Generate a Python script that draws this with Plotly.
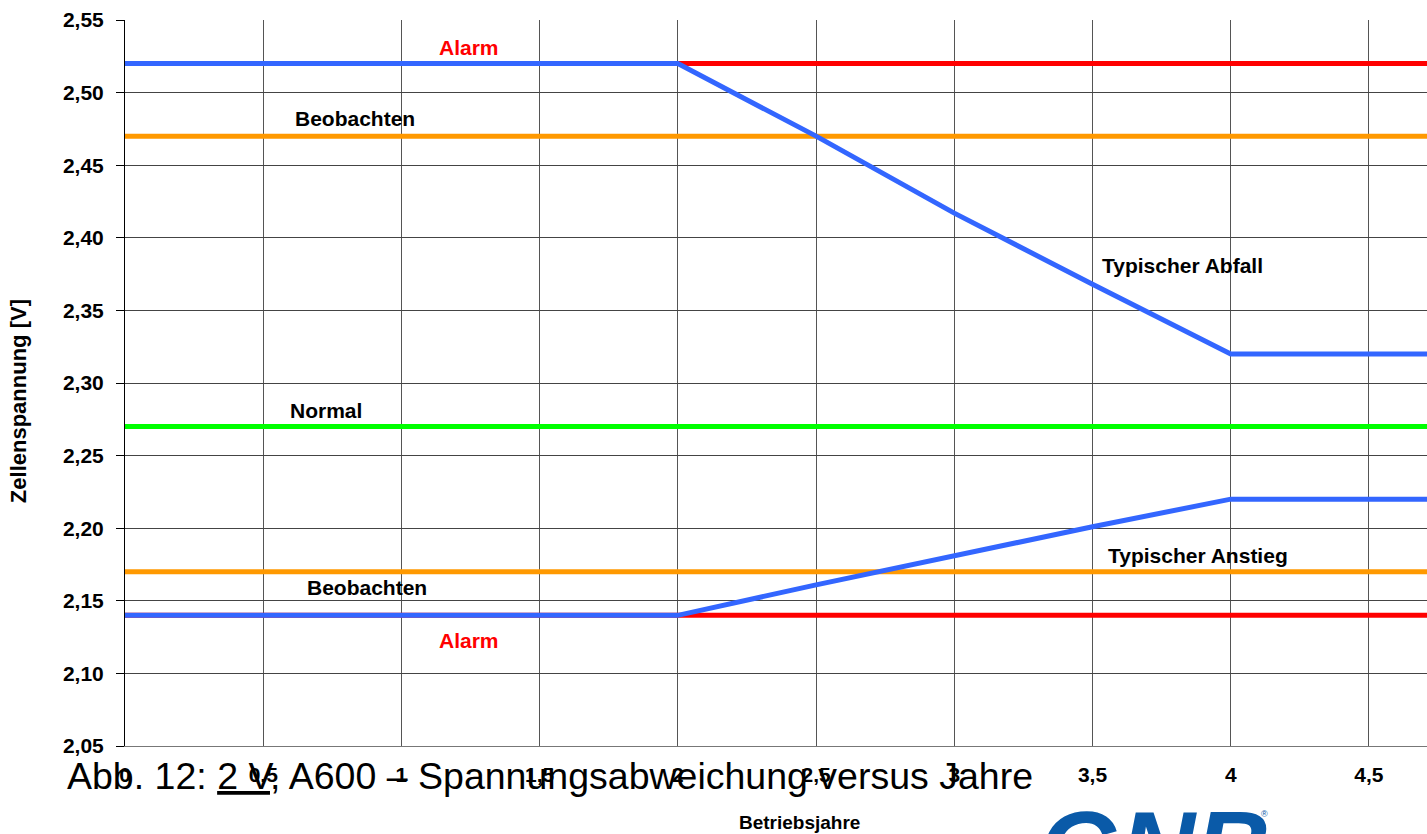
import plotly.graph_objects as go

# ---- data ----
x_end = 4.71
years_curve = [0, 2, 2.5, 3, 3.5, 4, x_end]
typ_abfall = [2.52, 2.52, 2.47, 2.417, 2.368, 2.32, 2.32]
typ_anstieg = [2.14, 2.14, 2.161, 2.181, 2.201, 2.22, 2.22]

alarm_high = 2.52
beob_high = 2.47
normal = 2.27
beob_low = 2.17
alarm_low = 2.14

x_ticks = [0, 0.5, 1, 1.5, 2, 2.5, 3, 3.5, 4, 4.5]
x_ticktext = ["0", "0,5", "1", "1,5", "2", "2,5", "3", "3,5", "4", "4,5"]
y_ticks = [2.05, 2.10, 2.15, 2.20, 2.25, 2.30, 2.35, 2.40, 2.45, 2.50, 2.55]
y_ticktext = ["2,05", "2,10", "2,15", "2,20", "2,25", "2,30", "2,35", "2,40", "2,45", "2,50", "2,55"]

FONT = "Liberation Sans, Arial, sans-serif"
BLUE = "#3366ff"
RED = "#ff0000"
ORANGE = "#ff9900"
GREEN = "#00ff00"
LOGO = "#0a5aa8"

fig = go.Figure()
line_x = [0, x_end]
for val, col in [(alarm_high, RED), (beob_high, ORANGE), (normal, GREEN),
                 (beob_low, ORANGE), (alarm_low, RED)]:
    fig.add_trace(go.Scatter(x=line_x, y=[val, val], mode="lines",
                             line=dict(color=col, width=5), hoverinfo="skip"))
fig.add_trace(go.Scatter(x=years_curve, y=typ_abfall, mode="lines",
                         line=dict(color=BLUE, width=5)))
fig.add_trace(go.Scatter(x=years_curve, y=typ_anstieg, mode="lines",
                         line=dict(color=BLUE, width=5)))

labels = [
    ("Alarm", 1.244, 2.5314, RED),
    ("Beobachten", 0.832, 2.4825, "black"),
    ("Typischer Abfall", 3.826, 2.3806, "black"),
    ("Normal", 0.727, 2.2814, "black"),
    ("Typischer Anstieg", 3.881, 2.1809, "black"),
    ("Beobachten", 0.875, 2.1595, "black"),
    ("Alarm", 1.244, 2.123, RED),
]
for txt, xx, yy, col in labels:
    fig.add_annotation(x=xx, y=yy, xref="x", yref="y", text=f"<b>{txt}</b>",
                       xanchor="center", yanchor="middle",
                       showarrow=False, font=dict(family=FONT, size=21, color=col))

# axis titles
fig.add_annotation(x=-0.0822, y=0.475, xref="paper", yref="paper",
                   xanchor="center", yanchor="middle",
                   text="<b>Zellenspannung [V]</b>", textangle=-90, showarrow=False,
                   font=dict(family=FONT, size=22, color="black"))
fig.add_annotation(x=0.518, y=-0.1047, xref="paper", yref="paper",
                   xanchor="center", yanchor="middle",
                   text="<b>Betriebsjahre</b>", showarrow=False,
                   font=dict(family=FONT, size=19, color="black"))

# caption
fig.add_annotation(x=0.3264, y=-0.0413, xref="paper", yref="paper",
                   xanchor="center", yanchor="middle",
                   text="Abb. 12: <u>2 V</u>, A600 – Spannungsabweichung versus Jahre",
                   showarrow=False, font=dict(family=FONT, size=37.5, color="black"))

# logo (partially visible)
fig.add_annotation(x=0.791, y=-0.058, xref="paper", yref="paper",
                   xanchor="center", yanchor="top",
                   text="<b><i>GNB</i></b>", showarrow=False,
                   font=dict(family=FONT, size=104, color=LOGO))
fig.add_annotation(x=0.8755, y=-0.094, xref="paper", yref="paper",
                   xanchor="center", yanchor="middle",
                   text="®", showarrow=False,
                   font=dict(family=FONT, size=9, color=LOGO))

fig.update_layout(
    width=1427, height=834,
    margin=dict(l=125, r=0, t=20, b=88, autoexpand=False),
    paper_bgcolor="white", plot_bgcolor="white",
    showlegend=False,
    xaxis=dict(range=[0, x_end], tickvals=x_ticks, ticktext=x_ticktext,
               showgrid=True, gridcolor="#555555", gridwidth=1,
               zeroline=False, showline=True, linecolor="#777777", linewidth=1,
               ticks="", ticklabelstandoff=10,
               tickfont=dict(family=FONT, size=21, color="black", weight="bold")),
    yaxis=dict(range=[2.05, 2.55], tickvals=y_ticks, ticktext=y_ticktext,
               showgrid=True, gridcolor="#444444", gridwidth=1,
               zeroline=False, showline=True, linecolor="black", linewidth=1,
               ticks="outside", ticklen=8, tickcolor="black", ticklabelstandoff=8,
               tickfont=dict(family=FONT, size=21, color="black", weight="bold")),
)

fig.write_html("out.html", config={"displayModeBar": False},
               post_script="document.body.style.margin='0';document.body.style.overflow='hidden';")
